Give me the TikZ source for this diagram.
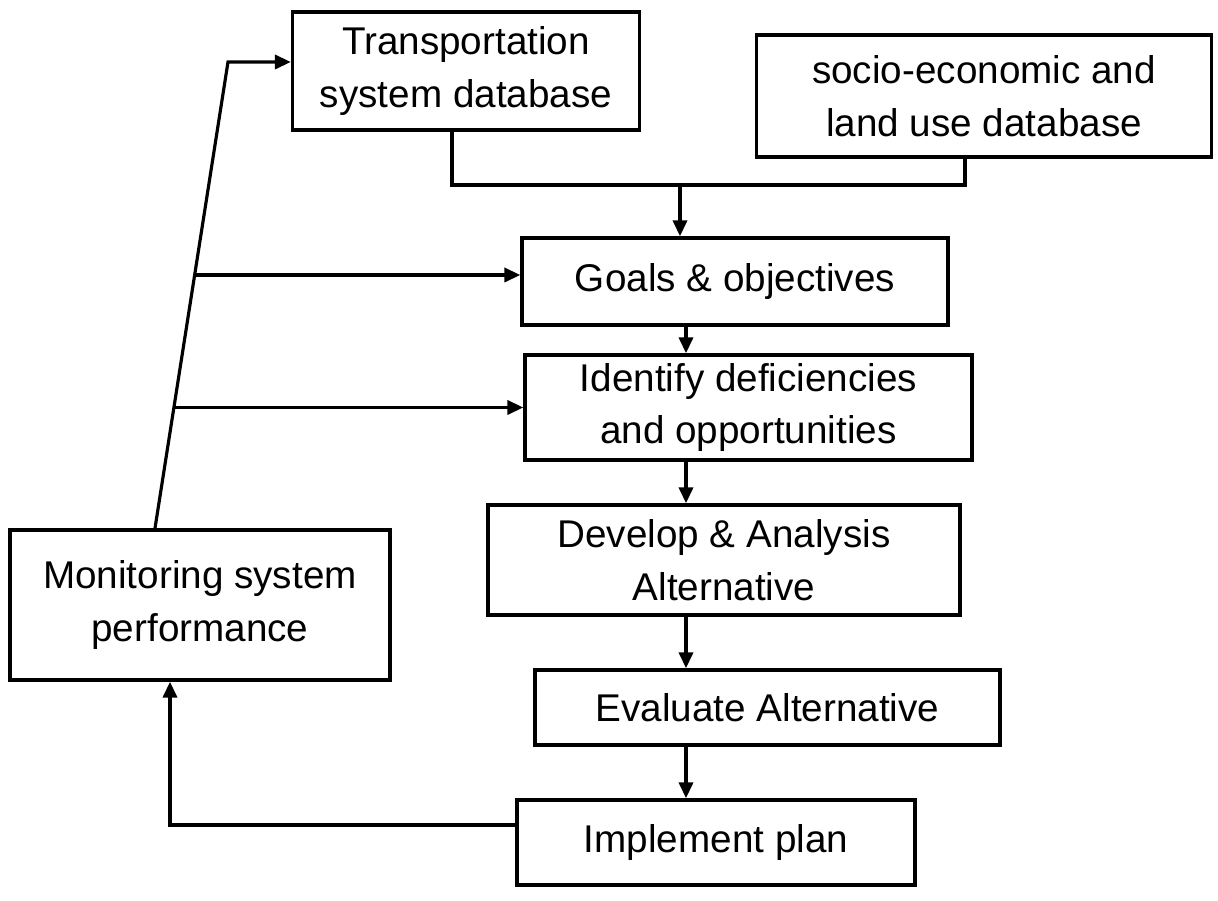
\documentclass[tikz,border=0pt]{standalone}
\usepackage{fontspec}
\setmainfont{Liberation Sans}
\usetikzlibrary{arrows.meta,calc}
\begin{document}
\begin{tikzpicture}[x=0.02cm,y=-0.02cm,
  box/.style={draw,line width=2pt,align=center,inner sep=2pt,
    font=\fontsize{22}{30}\selectfont},
  conn/.style={line width=1.8pt},
  arr/.style={conn,-{Triangle[length=9pt,width=8pt]}}]
\useasboundingbox (0,0) rectangle (1218,901);
\node[box,minimum width=6.94cm,minimum height=2.36cm] (trans) at (466,71) {Transportation\\system database};
\node[box,minimum width=9.10cm,minimum height=2.44cm] (socio) at (984,96) {socio-economic and\\land use database};
\node[box,minimum width=8.52cm,minimum height=1.74cm] (goals) at (735,281.5) {Goals \& objectives};
\node[box,minimum width=8.94cm,minimum height=2.10cm] (ident) at (748.5,407.5) {Identify deficiencies\\and opportunities};
\node[box,minimum width=9.44cm,minimum height=2.20cm] (devel) at (724,560) {Develop \& Analysis\\Alternative};
\node[box,minimum width=9.30cm,minimum height=1.50cm] (evalu) at (767.5,707.5) {Evaluate Alternative};
\node[box,minimum width=7.96cm,minimum height=1.70cm] (impl) at (716,842.5) {Implement plan};
\node[box,minimum width=7.60cm,minimum height=3.00cm] (monit) at (200,605) {Monitoring system\\performance};
% spine
\coordinate (sp) at (686,0);
\coordinate (tl) at (452,0);
\coordinate (sl) at (965,0);
\coordinate (j) at (680,185);
\draw[conn] (trans.south -| tl) -- (tl |- j) -- (sl |- j) -- (socio.south -| sl);
\draw[arr] (j) -- (j |- goals.north);
\draw[arr] (goals.south -| sp) -- (ident.north -| sp);
\draw[arr] (ident.south -| sp) -- (devel.north -| sp);
\draw[arr] (devel.south -| sp) -- (evalu.north -| sp);
\draw[arr] (evalu.south -| sp) -- (impl.north -| sp);
% feedback
\coordinate (ret) at (170,825);
\draw[arr] (impl.west |- ret) -- (ret) -- (ret |- monit.south);
\coordinate (up) at (155,0);
\coordinate (top) at (228,62);
\draw[arr] (monit.north -| up) -- (top) -- (top -| trans.west);
\coordinate (b1) at (194,275);
\coordinate (b2) at (174,407.5);
\draw[arr] (b1) -- (b1 -| goals.west);
\draw[arr] (b2) -- (b2 -| ident.west);
\end{tikzpicture}
\end{document}
